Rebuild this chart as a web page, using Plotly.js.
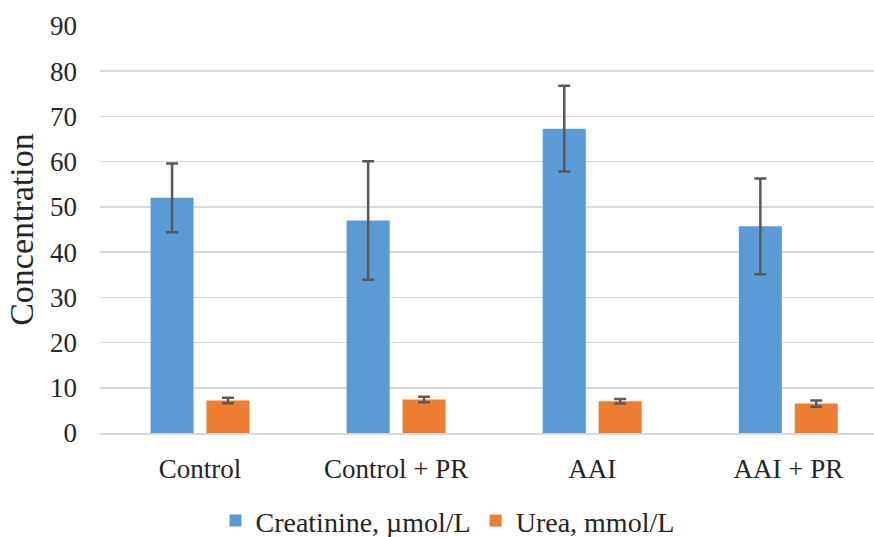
<!DOCTYPE html>
<html>
<head>
<meta charset="utf-8">
<script src="https://cdn.plot.ly/plotly-3.0.1.min.js"></script>
<style>
html,body{margin:0;padding:0;background:#fff;}
#chart{width:874px;height:537px;}
</style>
</head>
<body>
<div id="chart"></div>
<script>
const categories = ["Control", "Control + PR", "AAI", "AAI + PR"];
const creatinine = [52.0, 47.0, 67.3, 45.7];
const creatinineErr = [7.6, 13.1, 9.5, 10.6];
const urea = [7.2, 7.4, 7.0, 6.5];
const ureaErr = [0.6, 0.6, 0.5, 0.7];
const seriesNames = ["Creatinine, µmol/L", "Urea, mmol/L"];
const yTicks = [0, 10, 20, 30, 40, 50, 60, 70, 80, 90];

const SERIF = "Liberation Serif";
function errStyle(arr) {
  return {type: "data", array: arr, visible: true, color: "#595959", thickness: 2.5, width: 6};
}
function mkFont(size) {
  return {family: SERIF, size: size, color: "#262626"};
}
const traces = [
  {type: "bar", name: seriesNames[0], x: categories, y: creatinine,
   marker: {color: "#5B9BD5"}, error_y: errStyle(creatinineErr)},
  {type: "bar", name: seriesNames[1], x: categories, y: urea,
   marker: {color: "#ED7D31"}, error_y: errStyle(ureaErr)}
];
const layout = {
  width: 874, height: 537,
  margin: {l: 100, r: 0, t: 26, b: 104},
  paper_bgcolor: "#fff", plot_bgcolor: "#fff",
  font: mkFont(27),
  barmode: "group", bargap: 0.43, bargroupgap: 0.23,
  showlegend: true,
  legend: {orientation: "h", xref: "container", yref: "container", x: 0.512, xanchor: "center",
           y: 0.03, yanchor: "middle", font: mkFont(28), itemwidth: 30},
  xaxis: {type: "category", range: [-0.51, 3.437], showgrid: false, showline: true,
          linecolor: "#D9D9D9", linewidth: 1.5, ticks: "", ticklabelstandoff: 11, tickfont: mkFont(27)},
  yaxis: {range: [0, 90], tickvals: yTicks, showgrid: true, gridcolor: "#D9D9D9", gridwidth: 1.5,
          zeroline: false, showline: false, ticks: "", ticklabelstandoff: 22, tickfont: mkFont(27),
          title: {text: "Concentration", font: mkFont(34), standoff: 6}}
};
Plotly.newPlot("chart", traces, layout, {displayModeBar: false, staticPlot: true});
</script>
</body>
</html>
